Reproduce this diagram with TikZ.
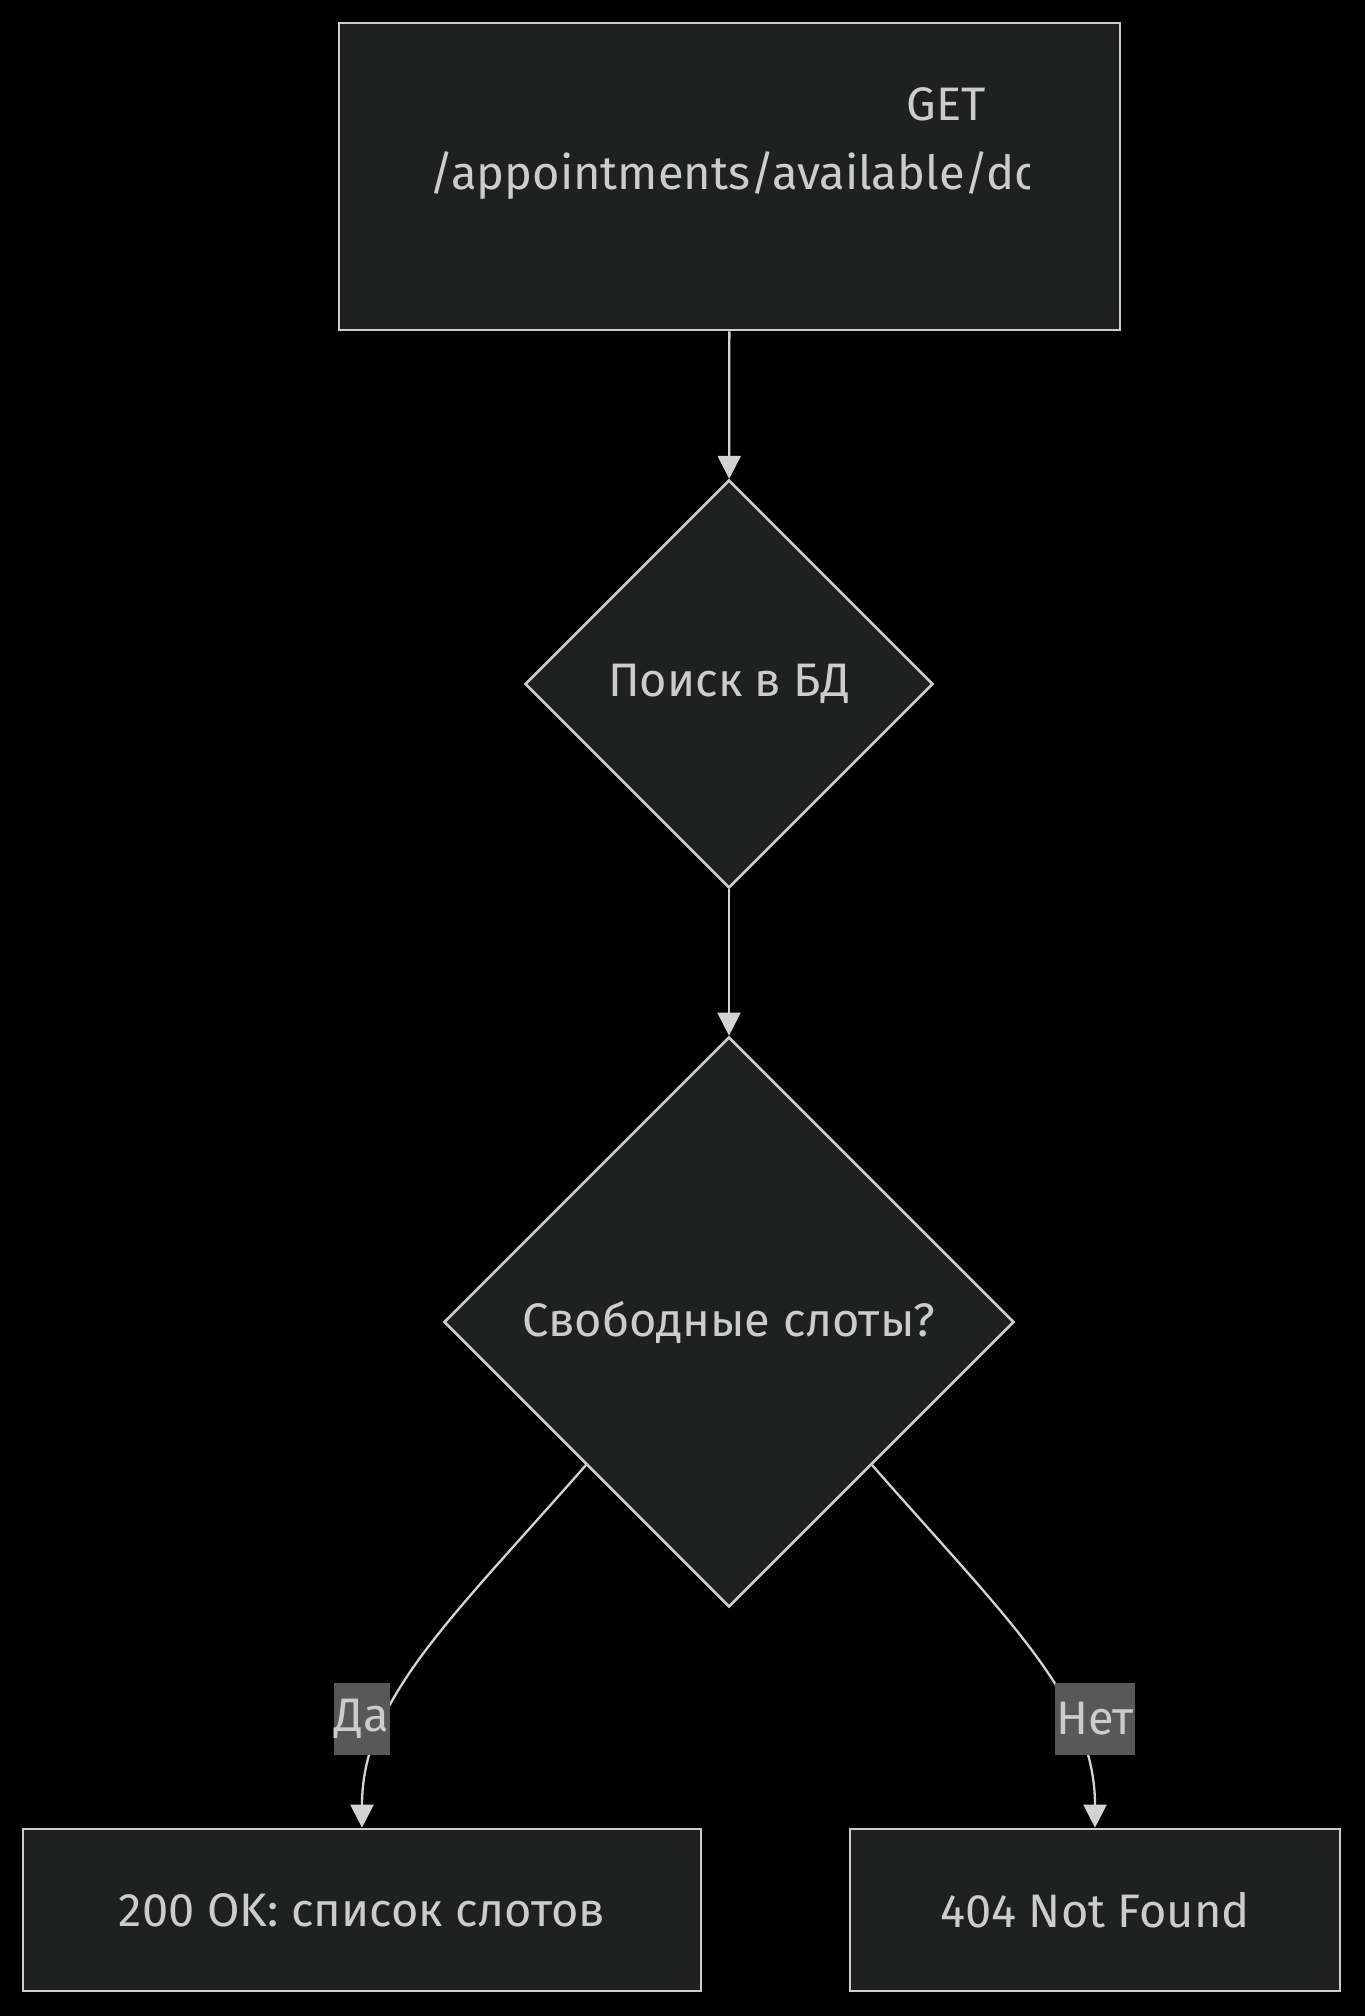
\documentclass[tikz,border=0pt]{standalone}
\usepackage{fontspec}
\setmainfont{Fira Sans}
\usepackage{tikz}
\usetikzlibrary{shapes.geometric,arrows.meta}
\definecolor{nodefill}{HTML}{1F2020}
\definecolor{nodeline}{HTML}{CCCCCC}
\definecolor{edgeline}{HTML}{D3D3D3}
\definecolor{labelfill}{HTML}{585858}

\begin{document}
\begin{tikzpicture}[x=1pt,y=-1pt]
\fill[black] (0,0) rectangle (1365,2016);
\useasboundingbox (0,0) rectangle (1365,2016);
\begin{scope}[every node/.style={draw=nodeline,line width=2.7pt,fill=nodefill,text=nodeline,font=\fontsize{47}{57}\selectfont,inner sep=0pt}]
\node[rectangle,minimum width=781pt,minimum height=307pt] (req) at (729.5,176.5) {};
\node[diamond,aspect=1,minimum width=408pt,minimum height=408pt] (search) at (729,684) {Поиск в БД};
\node[diamond,aspect=1,minimum width=570pt,minimum height=570pt] (slots) at (729,1322) {Свободные слоты?};
\node[rectangle,minimum width=678pt,minimum height=162pt] (ok) at (362,1910) {200 OK: список слотов};
\node[rectangle,minimum width=490pt,minimum height=162pt] (nf) at (1095,1910) {404 Not Found};
\end{scope}

\begin{scope}[every node/.style={text=nodeline,font=\fontsize{47}{57}\selectfont,inner sep=0pt}]
\node[anchor=base] (get) at (946.5,120) {GET};
\begin{scope}
\clip (339,23) rectangle (1029,330);
\node[anchor=base west] (path) at (429,189) {/appointments/available/do};
\end{scope}
\end{scope}

\begin{scope}[line width=2.3pt, edgeline, -{Triangle[length=23pt,width=23pt]}]
\draw (req) -- (search);
\draw (search) -- (slots);
\draw (slots.south west) .. controls (450,1620) and (362,1700) .. (ok.north);
\draw (slots.south east) .. controls (1008,1620) and (1095,1700) .. (nf.north);
\end{scope}

\begin{scope}[every node/.style={fill=labelfill,text=nodeline,font=\fontsize{47}{57}\selectfont,inner xsep=1pt,inner ysep=0pt,minimum height=72pt}]
\node (yes) at (362,1719) {Да};
\node (no) at (1095,1719) {Нет};
\end{scope}
\end{tikzpicture}
\end{document}
